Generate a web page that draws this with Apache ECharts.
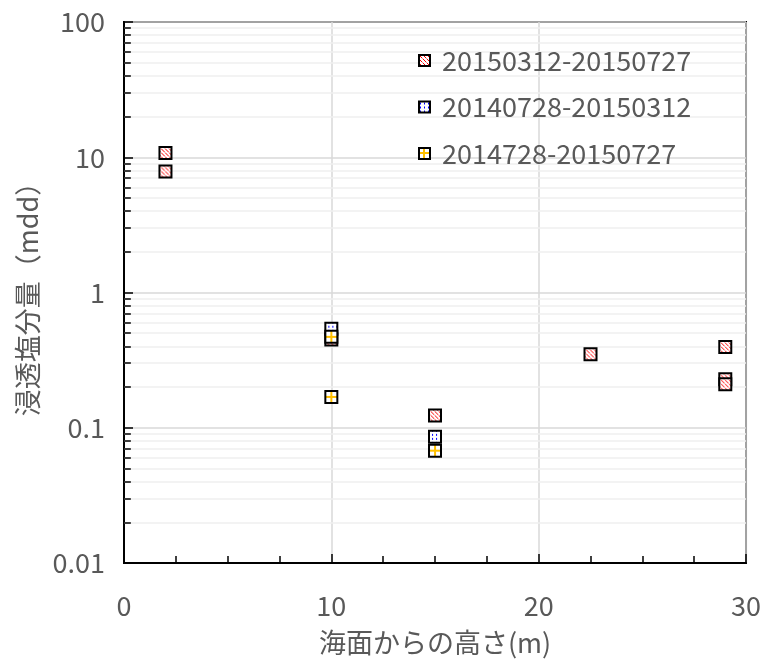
<!DOCTYPE html>
<html><head><meta charset="utf-8">
<script src="https://cdn.jsdelivr.net/npm/echarts@6/dist/echarts.min.js"></script>
<style>html,body{margin:0;padding:0;background:#fff}#c{width:764px;height:661px}</style>
</head><body><div id="c"></div>
<script>
// ---- data ----
const seriesNames = ['20150312-20150727', '20140728-20150312', '2014728-20150727'];
const redX = [2, 2, 10, 15, 22.5, 29, 29, 29];
const redY = [10.76, 7.84, 0.45, 0.123, 0.35, 0.396, 0.228, 0.21];
const blueX = [10, 15];
const blueY = [0.54, 0.0857];
const yellowX = [10, 10, 15];
const yellowY = [0.47, 0.169, 0.0677];
const yTickLabels = ['0.01', '0.1', '1', '10', '100'];
const xTickLabels = ['0', '10', '20', '30'];
const xAxisName = '海面からの高さ(m)';
const yAxisName = '浸透塩分量（mdd）';

// minor log gridline values (2..9 in each decade)
const minorVals = [];
for (let d = -2; d <= 1; d++) for (let k = 2; k <= 9; k++) minorVals.push(+(k * Math.pow(10, d)).toPrecision(3));

const SYM = 12;               // marker size in px
const SYM_SCALE = SYM / 2;    // scatter symbols are unit paths scaled by size/2

function makeCanvas(kind) {
  const c = document.createElement('canvas');
  const ctx = c.getContext('2d');
  if (kind === 'red') {
    c.width = c.height = 4;
    ctx.fillStyle = '#fff'; ctx.fillRect(0, 0, 4, 4);
    ctx.fillStyle = '#ff0000';
    ctx.fillRect(0, 0, 1, 1); ctx.fillRect(1, 1, 1, 1); ctx.fillRect(2, 2, 1, 1);
    ctx.fillStyle = '#ff9090';
    ctx.fillRect(3, 3, 1, 1);
  } else if (kind === 'blue') {
    c.width = c.height = 4;
    ctx.fillStyle = '#fff'; ctx.fillRect(0, 0, 4, 4);
    ctx.fillStyle = '#0000ff';
    ctx.fillRect(1, 1, 1, 2);
  } else {
    c.width = c.height = 12;
    ctx.fillStyle = '#fff'; ctx.fillRect(0, 0, 12, 12);
    ctx.fillStyle = '#ffc000';
    ctx.fillRect(0, 0, 12, 2);
    ctx.fillRect(0, 0, 2, 12);
  }
  return c;
}
const canv = { red: makeCanvas('red'), blue: makeCanvas('blue'), yellow: makeCanvas('yellow') };
const symPattern = k => ({ image: canv[k], repeat: 'repeat', scaleX: 1 / SYM_SCALE, scaleY: 1 / SYM_SCALE, x: k === 'yellow' ? -1 / SYM_SCALE : 0, y: k === 'yellow' ? -1 / SYM_SCALE : 0 });
const legPattern = k => ({ image: canv[k], repeat: 'repeat', x: k === 'yellow' ? 4 : 0, y: k === 'yellow' ? 4 : 0 });

const textColor = '#595959';
const fontFam = "'Noto Sans CJK JP', 'Noto Sans', sans-serif";

function pts(xs, ys) { return xs.map((x, i) => [x, ys[i]]); }

const chart = echarts.init(document.getElementById('c'), null, { renderer: 'canvas' });
const markerStyle = (kind) => ({ color: symPattern(kind), borderColor: '#000', borderWidth: 2, opacity: 1 });
const kinds = ['red', 'blue', 'yellow'];

chart.setOption({
  animation: false,
  backgroundColor: '#fff',
  textStyle: { fontFamily: fontFam },
  grid: { left: 124, right: 17, top: 22, bottom: 98, show: true, borderColor: '#000', borderWidth: 2, backgroundColor: 'transparent' },
  legend: {
    data: seriesNames.map((n, i) => ({ name: n, icon: 'rect', itemStyle: { color: legPattern(kinds[i]), borderColor: '#000', borderWidth: 2 } })),
    orient: 'vertical',
    left: 413, top: 42,
    itemWidth: 11, itemHeight: 11,
    itemGap: 19.5,
    z: 10,
    textStyle: { color: textColor, fontSize: 27, fontFamily: fontFam, padding: [0, 0, 0, 7] },
    selectedMode: false
  },
  xAxis: {
    type: 'value', min: 0, max: 30, interval: 10,
    name: xAxisName, nameLocation: 'middle', nameGap: 66,
    nameTextStyle: { color: textColor, fontSize: 27, fontFamily: fontFam },
    axisLine: { show: true, onZero: false, lineStyle: { color: '#000', width: 2 } },
    axisTick: { show: true, inside: true, length: 9, lineStyle: { color: '#000', width: 1.5 } },
    minorTick: { show: true, splitNumber: 4, length: 7, lineStyle: { color: '#000', width: 1.5 } },
    axisLabel: { color: textColor, fontSize: 27, margin: 29, fontFamily: fontFam,
      formatter: v => xTickLabels[Math.round(v / 10)] },
    splitLine: { show: true, lineStyle: { color: '#d9d9d9', width: 1.5 } }
  },
  yAxis: {
    type: 'log', logBase: 10, min: 0.01, max: 100,
    name: yAxisName, nameLocation: 'middle', nameGap: 80,
    nameTextStyle: { color: textColor, fontSize: 27, fontFamily: fontFam },
    axisLine: { show: true, lineStyle: { color: '#000', width: 2 } },
    axisTick: { show: true, inside: true, length: 9, lineStyle: { color: '#000', width: 1.5 } },
    axisLabel: { color: textColor, fontSize: 27, margin: 19, fontFamily: fontFam,
      formatter: v => yTickLabels[Math.round(Math.log10(v)) + 2] },
    splitLine: { show: true, lineStyle: { color: '#d9d9d9', width: 1.5 } }
  },
  series: [
    {
      name: '_minorGrid', type: 'scatter', data: [[0, 1]], symbolSize: 0, silent: true, z: 1,
      markLine: {
        z: 1, silent: true, symbol: 'none', label: { show: false }, animation: false,
        lineStyle: { color: '#efefef', width: 1.5, type: 'solid' },
        data: minorVals.map(v => ({ yAxis: v }))
      }
    },
    {
      name: '_minorTick', type: 'scatter', data: [[0, 1]], symbolSize: 0, silent: true, z: 3,
      markLine: {
        z: 3, silent: true, symbol: 'none', label: { show: false }, animation: false,
        lineStyle: { color: '#000', width: 1.5, type: 'solid' },
        data: minorVals.map(v => [{ coord: [0, v] }, { coord: [0.33, v] }])
      }
    },
    { name: seriesNames[0], type: 'scatter', symbol: 'rect', symbolSize: SYM, z: 5,
      itemStyle: markerStyle('red'), data: pts(redX, redY) },
    { name: seriesNames[1], type: 'scatter', symbol: 'rect', symbolSize: SYM, z: 5,
      itemStyle: markerStyle('blue'), data: pts(blueX, blueY) },
    { name: seriesNames[2], type: 'scatter', symbol: 'rect', symbolSize: SYM, z: 5,
      itemStyle: markerStyle('yellow'), data: pts(yellowX, yellowY) }
  ]
});
</script></body></html>
